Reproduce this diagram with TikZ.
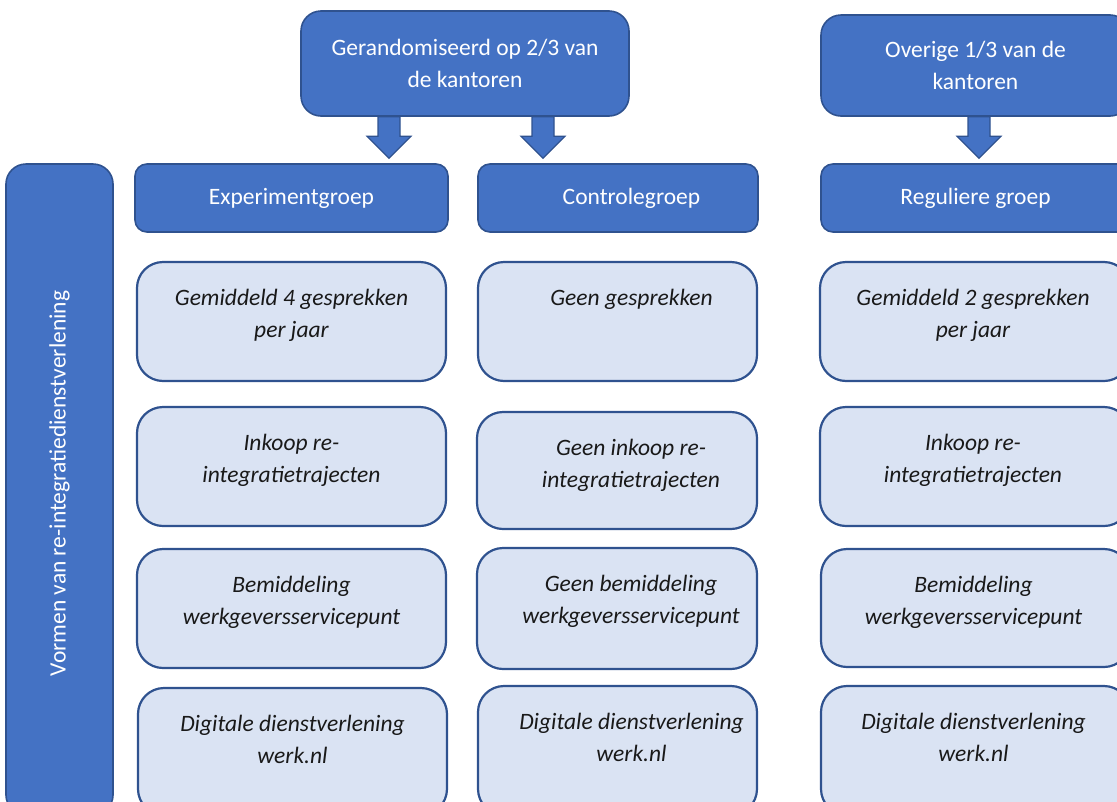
\documentclass[tikz,border=0pt]{standalone}
\usepackage{fontspec}
\setmainfont{Carlito}
\usepackage{tikz}
\usetikzlibrary{calc, positioning}

\definecolor{boxblue}{HTML}{4472C4}
\definecolor{edgeblue}{HTML}{2F528F}
\definecolor{paleblue}{HTML}{DAE3F3}

\begin{document}
\begin{tikzpicture}[x=1pt, y=-1pt,
    darkbox/.style={draw=edgeblue, fill=boxblue, line width=1.6pt, text=white, align=center,
        inner sep=0pt, font=\fontsize{23.5}{32}\selectfont},
    topbox/.style={darkbox, rounded corners=20pt},
    groupbox/.style={darkbox, rounded corners=12pt},
    cellbox/.style={draw=edgeblue, fill=paleblue, line width=2.2pt, rounded corners=26pt, inner sep=0pt},
    celltext/.style={anchor=north, align=center, inner sep=0pt, text=black!90,
        font=\fontsize{23.5}{32}\selectfont\itshape},
    blockarrow/.style={draw=edgeblue, fill=boxblue, line width=1.2pt, line join=miter}]
    \useasboundingbox (0,0) rectangle (1117,801);
    \clip (0,0) rectangle (1117,801);

    % side label
    \node[darkbox, rounded corners=20pt, rotate=90, minimum width=651pt, minimum height=107pt] (side)
        at (59.5,489.5) {\hspace*{12pt}Vormen van re-integratiedienstverlening};

    % top boxes
    \node[topbox, minimum width=328pt, minimum height=105pt] (rand) at (465,63.5)
        {Gerandomiseerd op 2/3 van\\de kantoren};
    \node[topbox, minimum width=309pt, minimum height=101pt] (rest) at (975.5,65.5)
        {Overige 1/3 van de\\kantoren};

    % groups
    \node[groupbox, minimum width=313pt, minimum height=68pt] (exp) at (291.5,198) {Experimentgroep};
    \node[groupbox, minimum width=280pt, minimum height=68pt] (ctl) at (618,198) {\hspace*{27pt}Controlegroep};
    \node[groupbox, minimum width=309pt, minimum height=68pt] (reg) at (975.5,198) {Reguliere groep};

    % arrows
    \foreach \ax/\src/\dst in {389/rand/exp, 543/rand/ctl, 979/rest/reg}{
        \coordinate (s) at (\ax,0 |- \src.south);
        \coordinate (t) at ($(\ax,0 |- \dst.north)+(0,-5)$);
        \draw[blockarrow] ($(s)+(-11,0)$) -- ($(t)+(-11,-22)$) -- ($(t)+(-22,-22)$) -- (t)
            -- ($(t)+(22,-22)$) -- ($(t)+(11,-22)$) -- ($(s)+(11,0)$) -- cycle;
    }

    % experiment column
    \node[cellbox, minimum width=309pt, minimum height=119pt] (e1) at (291.5,321.5) {};
    \node[cellbox, minimum width=309pt, minimum height=119pt] (e2) at (291.5,466.5) {};
    \node[cellbox, minimum width=309pt, minimum height=119pt] (e3) at (291.5,608.5) {};
    \node[cellbox, minimum width=309pt, minimum height=127pt] (e4) at (292.5,751.5) {};

    % control column
    \node[cellbox, minimum width=279pt, minimum height=119pt] (c1) at (617.5,321.5) {};
    \node[cellbox, minimum width=280pt, minimum height=117pt] (c2) at (617,470.5) {};
    \node[cellbox, minimum width=280pt, minimum height=121pt] (c3) at (617,608.5) {};
    \node[cellbox, minimum width=279pt, minimum height=129pt] (c4) at (617.5,750.5) {};

    % regular column
    \node[cellbox, minimum width=310pt, minimum height=119pt] (r1) at (975,321.5) {};
    \node[cellbox, minimum width=310pt, minimum height=119pt] (r2) at (975,466.5) {};
    \node[cellbox, minimum width=309pt, minimum height=118pt] (r3) at (975.5,608) {};
    \node[cellbox, minimum width=309pt, minimum height=129pt] (r4) at (975.5,750.5) {};

    % cell texts
    \node[celltext] (e1t) at ($(e1.north)+(0,28)$) {Gemiddeld 4 gesprekken\\per jaar};
    \node[celltext] (e2t) at ($(e2.north)+(0,28)$) {Inkoop re-\\integratietrajecten};
    \node[celltext] (e3t) at ($(e3.north)+(0,28)$) {Bemiddeling\\werkgeversservicepunt};
    \node[celltext] (e4t) at ($(e4.north)+(0,28)$) {Digitale dienstverlening\\werk.nl};

    \node[celltext] (c1t) at ($(c1.north)+(14,28)$) {Geen gesprekken};
    \node[celltext] (c2t) at ($(c2.north)+(14,28)$) {Geen inkoop re-\\integratietrajecten};
    \node[celltext] (c3t) at ($(c3.north)+(14,28)$) {Geen bemiddeling\\werkgeversservicepunt};
    \node[celltext] (c4t) at ($(c4.north)+(14,28)$) {Digitale dienstverlening\\werk.nl};

    \node[celltext] (r1t) at ($(r1.north)+(-2,28)$) {Gemiddeld 2 gesprekken\\per jaar};
    \node[celltext] (r2t) at ($(r2.north)+(-2,28)$) {Inkoop re-\\integratietrajecten};
    \node[celltext] (r3t) at ($(r3.north)+(-2,28)$) {Bemiddeling\\werkgeversservicepunt};
    \node[celltext] (r4t) at ($(r4.north)+(-2,28)$) {Digitale dienstverlening\\werk.nl};
\end{tikzpicture}
\end{document}
